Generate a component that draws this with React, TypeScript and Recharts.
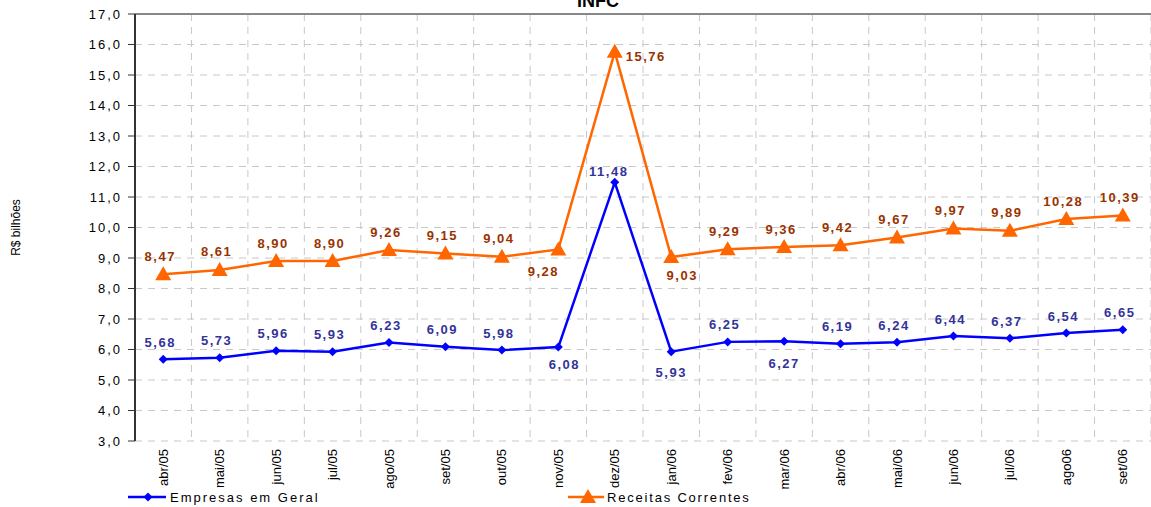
import { LineChart, Line, XAxis, YAxis, CartesianGrid, LabelList, ReferenceLine } from 'recharts';

const months = [
  'abr/05', 'mai/05', 'jun/05', 'jul/05', 'ago/05', 'set/05', 'out/05', 'nov/05', 'dez/05',
  'jan/06', 'fev/06', 'mar/06', 'abr/06', 'mai/06', 'jun/06', 'jul/06', 'ago06', 'set/06',
];
const empresas = [5.68, 5.73, 5.96, 5.93, 6.23, 6.09, 5.98, 6.08, 11.48, 5.93, 6.25, 6.27, 6.19, 6.24, 6.44, 6.37, 6.54, 6.65];
const receitas = [8.47, 8.61, 8.9, 8.9, 9.26, 9.15, 9.04, 9.28, 15.76, 9.03, 9.29, 9.36, 9.42, 9.67, 9.97, 9.89, 10.28, 10.39];
const yTicks = [3, 4, 5, 6, 7, 8, 9, 10, 11, 12, 13, 14, 15, 16, 17];
// category boundaries, used for the vertical grid and the x tick marks
const bounds = [...months.map((_, i) => i), months.length];

const data = months.map((month, i) => ({ month, empresas: empresas[i], receitas: receitas[i] }));

const W = 1151;
const H = 507;
const TOP = 14;
const X_AXIS_H = 66;
const PLOT_BOTTOM = H - X_AXIS_H;

const FONT = '"Liberation Sans", Arial, sans-serif';
const BLUE = '#0000ff';
const ORANGE = '#ff6600';
const BLUE_TXT = '#333399';
const ORANGE_TXT = '#993300';

const fmt = (v: number) => v.toFixed(2).replace('.', ',');

// label offsets relative to the point; anything not listed sits above it
const blueOffsets: Record<number, [number, number]> = {
  7: [6, 17],
  8: [-6, -11],
  9: [0, 21],
  11: [0, 22],
};
const orangeOffsets: Record<number, [number, number]> = {
  7: [-15, 22],
  8: [31, 5],
  9: [11, 18],
};

function makeLabel(color: string, offsets: Record<number, [number, number]>, above: number) {
  return (props: any) => {
    const { x, y, value, index } = props;
    const [dx, dy] = offsets[index] ?? [-3, above];
    return (
      <text
        x={x + dx}
        y={y + dy}
        dy="0.35em"
        textAnchor="middle"
        fill={color}
        fontFamily={FONT}
        fontWeight="bold"
        fontSize={13}
        letterSpacing={1.5}
      >
        {fmt(value)}
      </text>
    );
  };
}

const Diamond = (props: any) => {
  const { cx, cy } = props;
  if (cx == null || cy == null) return null;
  const r = 4.5;
  return <polygon points={`${cx},${cy - r} ${cx + r},${cy} ${cx},${cy + r} ${cx - r},${cy}`} fill={BLUE} />;
};

const Triangle = (props: any) => {
  const { cx, cy } = props;
  if (cx == null || cy == null) return null;
  return <polygon points={`${cx},${cy - 8} ${cx + 8},${cy + 6} ${cx - 8},${cy + 6}`} fill={ORANGE} />;
};

const MonthTick = (props: any) => {
  const { x, y, payload } = props;
  return (
    <text
      x={x}
      y={y}
      dy="0.35em"
      textAnchor="end"
      transform={`rotate(-90, ${x}, ${y})`}
      fill="#000"
      fontFamily={FONT}
      fontSize={13}
    >
      {payload.value}
    </text>
  );
};

// short marks under the axis at every category boundary
const BoundaryTick = (props: any) => (
  <line x1={props.x} x2={props.x} y1={PLOT_BOTTOM} y2={PLOT_BOTTOM + 6} stroke="#333" strokeWidth={1.2} />
);

export default function App() {
  return (
    <div style={{ position: 'absolute', left: 0, top: 0, width: W, height: H, background: '#fff' }}>
      <LineChart width={W} height={H} data={data} margin={{ top: TOP, right: 0, bottom: 0, left: 0 }}>
        <CartesianGrid
          stroke="#c8c8c8"
          strokeDasharray="7 6"
          verticalCoordinatesGenerator={({ offset }: any) =>
            bounds.map((b) => offset.left + (b * offset.width) / months.length)
          }
        />
        <XAxis
          xAxisId="grid"
          type="number"
          domain={[0, months.length]}
          ticks={bounds}
          height={0}
          interval={0}
          tick={<BoundaryTick />}
          tickLine={false}
          axisLine={{ stroke: '#333', strokeWidth: 2 }}
          allowDataOverflow
        />
        <XAxis
          xAxisId="cat"
          dataKey="month"
          scale="band"
          height={X_AXIS_H}
          axisLine={false}
          tickLine={false}
          interval={0}
          tick={<MonthTick />}
        />
        <YAxis
          domain={[3, 17]}
          ticks={yTicks}
          width={135}
          interval={0}
          tickSize={7}
          tickMargin={6}
          axisLine={{ stroke: '#333', strokeWidth: 2 }}
          tickLine={{ stroke: '#333' }}
          tickFormatter={(v: number) => v.toFixed(1).replace('.', ',')}
          tick={{ fill: '#000', fontFamily: FONT, fontSize: 13, letterSpacing: 2 }}
          label={{
            content: (p: any) => {
              const vb = p.viewBox;
              const cy = vb.y + vb.height / 2;
              return (
                <text
                  x={16}
                  y={cy}
                  dy="0.35em"
                  textAnchor="middle"
                  transform={`rotate(-90, 16, ${cy})`}
                  fontFamily={FONT}
                  fontSize={12}
                  fill="#000"
                >
                  R$ bilhões
                </text>
              );
            },
          }}
        />
        <ReferenceLine xAxisId="grid" y={17} stroke="#888" strokeWidth={2} />
        <Line
          xAxisId="cat"
          dataKey="empresas"
          stroke={BLUE}
          strokeWidth={2.5}
          dot={<Diamond />}
          activeDot={false}
          isAnimationActive={false}
        >
          <LabelList dataKey="empresas" content={makeLabel(BLUE_TXT, blueOffsets, -17)} />
        </Line>
        <Line
          xAxisId="cat"
          dataKey="receitas"
          stroke={ORANGE}
          strokeWidth={2.5}
          dot={<Triangle />}
          activeDot={false}
          isAnimationActive={false}
        >
          <LabelList dataKey="receitas" content={makeLabel(ORANGE_TXT, orangeOffsets, -18)} />
        </Line>
      </LineChart>

      <svg width={W} height={H} style={{ position: 'absolute', left: 0, top: 0, pointerEvents: 'none' }}>
        <text x={598} y={7} textAnchor="middle" fontFamily={FONT} fontWeight="bold" fontSize={18} fill="#000">
          INFC
        </text>
        <line x1={128} y1={497} x2={166} y2={497} stroke={BLUE} strokeWidth={2.5} />
        <polygon points="148,492.5 152.5,497 148,501.5 143.5,497" fill={BLUE} />
        <text x={170} y={502} fontFamily={FONT} fontSize={13} letterSpacing={2} fill="#000">
          Empresas em Geral
        </text>
        <line x1={568} y1={497} x2={604} y2={497} stroke={ORANGE} strokeWidth={2.5} />
        <polygon points="588,489 596,503 580,503" fill={ORANGE} />
        <text x={607} y={502} fontFamily={FONT} fontSize={13} letterSpacing={1.8} fill="#000">
          Receitas Correntes
        </text>
      </svg>
    </div>
  );
}
